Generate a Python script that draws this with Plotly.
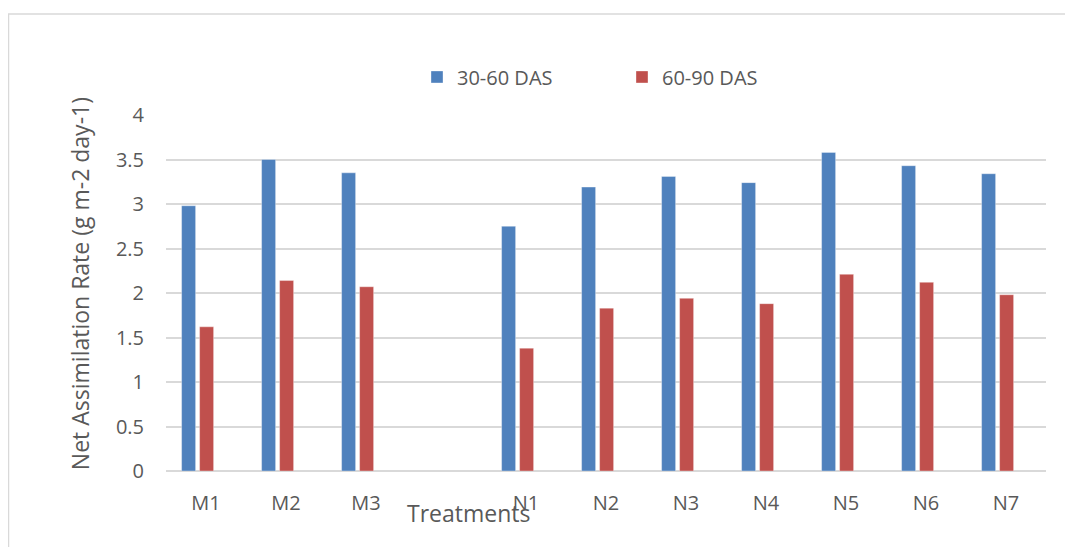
import plotly.graph_objects as go

categories = ["M1", "M2", "M3", " ", "N1", "N2", "N3", "N4", "N5", "N6", "N7"]
das_30_60 = [2.98, 3.50, 3.35, None, 2.75, 3.19, 3.31, 3.24, 3.58, 3.43, 3.34]
das_60_90 = [1.62, 2.14, 2.07, None, 1.38, 1.83, 1.94, 1.88, 2.21, 2.12, 1.98]
y_ticks = [0, 0.5, 1, 1.5, 2, 2.5, 3, 3.5, 4]
y_tick_labels = ["0", "0.5", "1", "1.5", "2", "2.5", "3", "3.5", "4"]

FONT = "Open Sans"
GREY = "#595959"
OFF = 8  # page body margin
W, H = 1073 - OFF, 547 - OFF
# plot area in page pixels
PL, PR, PT, PB = 166, 1046, 115, 470.7
L = PL - OFF
T = PT - OFF
R = W - (PR - OFF)
B = H - (PB - OFF)
pw = PR - PL
ph = PB - PT

fig = go.Figure()
fig.add_trace(go.Bar(
    x=categories, y=das_30_60, name="30-60 DAS",
    marker=dict(color="#4F81BD", line=dict(color="rgba(255,255,255,0.35)", width=1)),
    width=0.175, offset=-0.305,
))
fig.add_trace(go.Bar(
    x=categories, y=das_60_90, name="60-90 DAS",
    marker=dict(color="#C0504D", line=dict(color="rgba(255,255,255,0.35)", width=1)),
    width=0.175, offset=-0.08,
))


def px_x(p):
    return (p - PL) / pw


def px_y(p):
    return (PB - p) / ph


fig.update_layout(
    width=W, height=H, autosize=False,
    margin=dict(l=L, r=R, t=T, b=B, pad=0),
    paper_bgcolor="white", plot_bgcolor="white",
    barmode="overlay",
    font=dict(family=FONT, size=20, color=GREY),
    showlegend=True,
    legend=dict(
        orientation="h", x=px_x(417), y=px_y(77), xanchor="left", yanchor="middle",
        font=dict(family=FONT, size=20, color=GREY),
        entrywidth=160, entrywidthmode="pixels",
        bgcolor="rgba(0,0,0,0)",
    ),
    xaxis=dict(
        type="category", categoryorder="array", categoryarray=categories,
        showgrid=False, showline=False, zeroline=False, ticks="",
        tickfont=dict(family=FONT, size=20, color=GREY),
        ticklabelstandoff=18,
        range=[-0.5, len(categories) - 0.5],
    ),
    yaxis=dict(
        range=[0, 4], tickvals=y_ticks, ticktext=y_tick_labels,
        showgrid=True, gridcolor="#D9D9D9", gridwidth=1.5,
        zeroline=True, zerolinecolor="#D9D9D9", zerolinewidth=1.5,
        showline=False, ticks="",
        tickfont=dict(family=FONT, size=20, color=GREY),
        ticklabelstandoff=21,
    ),
    shapes=[dict(
        type="rect", xref="paper", yref="paper",
        x0=px_x(8.5), x1=px_x(1090), y0=px_y(570), y1=px_y(14),
        line=dict(color="#D9D9D9", width=1.5), fillcolor="rgba(0,0,0,0)", layer="below",
    )],
    annotations=[
        dict(text="Net Assimilation Rate (g m-2 day-1)", xref="paper", yref="paper",
             x=px_x(80), y=px_y(284), textangle=-90, showarrow=False,
             xanchor="center", yanchor="middle",
             font=dict(family=FONT, size=23, color=GREY)),
        dict(text="Treatments", xref="paper", yref="paper",
             x=px_x(468), y=px_y(513), showarrow=False,
             xanchor="center", yanchor="middle",
             font=dict(family=FONT, size=23, color=GREY)),
    ],
)

fig.write_html("out.html")
